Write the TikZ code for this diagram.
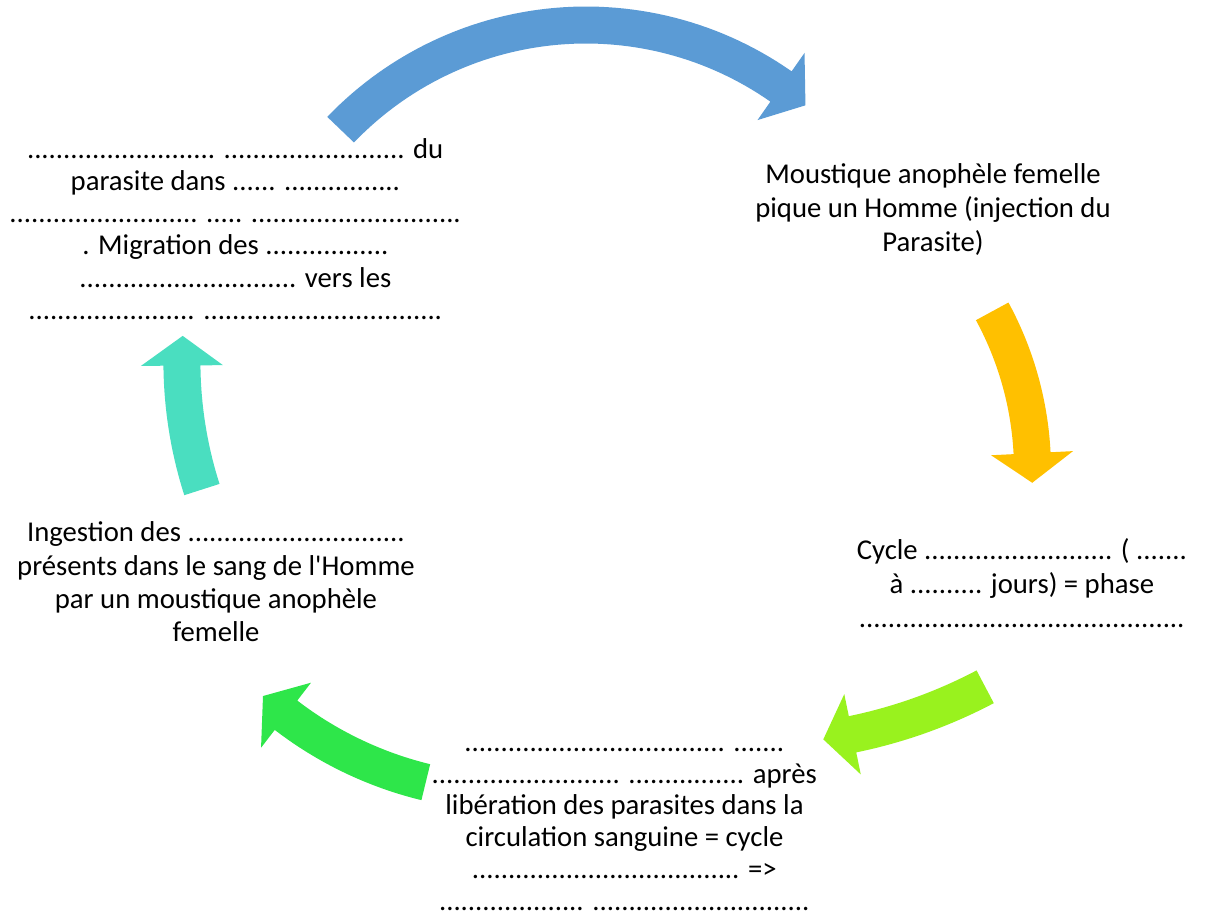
\documentclass[tikz,border=0pt]{standalone}
\usepackage{fontspec}
\setmainfont{Carlito}
\definecolor{cblue}{HTML}{5B9BD5}
\definecolor{cyellow}{HTML}{FFC000}
\definecolor{clime}{HTML}{99F21E}
\definecolor{cgreen}{HTML}{2EE64A}
\definecolor{cteal}{HTML}{4ADEC0}
\ExplSyntaxOn
\NewDocumentCommand\dts{m}{\prg_replicate:nn{#1}{.}}
\ExplSyntaxOff
% circular block arrow: centre x, centre y (pixels, y down), radius, tail angle, head-base angle, tip angle, colour
\newcommand{\cycarrow}[7]{%
  \fill[#7] plot[domain=#4:#5,samples=60] ({#1+(#3+18.5)*cos(\x)},{-#2+(#3+18.5)*sin(\x)})
    -- ({#1+(#3+41)*cos(#5)},{-#2+(#3+41)*sin(#5)})
    -- ({#1+#3*cos(#6)},{-#2+#3*sin(#6)})
    -- ({#1+(#3-41)*cos(#5)},{-#2+(#3-41)*sin(#5)})
    -- plot[domain=#5:#4,samples=60] ({#1+(#3-18.5)*cos(\x)},{-#2+(#3-18.5)*sin(\x)})
    -- cycle;}
\tikzset{
  txt/.style={inner sep=0pt, align=center, anchor=center, text=black}
}
\begin{document}
\begin{tikzpicture}[x=0.5pt,y=0.5pt]
\useasboundingbox (0,0) rectangle (1206,-917);
% arrows
\cycarrow{586}{365}{340}{136.2}{55}{49.8}{cblue}
\cycarrow{700}{470}{332.5}{28.5}{2.9}{-2.2}{cyellow}
\cycarrow{752}{244.5}{500}{-62.2}{-78.4}{-81.8}{clime}
\cycarrow{514.4}{417.8}{375}{-103.67}{-127.52}{-132.1}{cgreen}
\cycarrow{601.9}{361.5}{420}{197.75}{180.55}{176.5}{cteal}
% texts
\node[txt, font=\fontsize{14.35}{17.17}\selectfont] (tr) at (933,-210.5)
  {Moustique anophèle femelle\strut\\pique un Homme (injection du\strut\\Parasite)\strut};
\node[txt, font=\fontsize{14.35}{16.83}\selectfont] (rt) at (1022,-586.9)
  {Cycle \dts{26} ( \dts{7}\strut\\à \dts{10} jours) = phase\strut\\\dts{45}\strut};
\node[txt, font=\fontsize{14.35}{15.9}\selectfont] (bt) at (624.5,-824.5)
  {\dts{36} \dts{7}\strut\\\dts{26} \dts{16} après\strut\\libération des parasites dans la\strut\\circulation sanguine = cycle\strut\\\dts{37} =>\strut\\\dts{20} \dts{30}\strut};
\node[txt, font=\fontsize{14.35}{16.65}\selectfont] (lf) at (216,-585)
  {Ingestion des \dts{30}\strut\\présents dans le sang de l\textquotesingle Homme\strut\\par un moustique anophèle\strut\\femelle\strut};
\node[txt, font=\fontsize{14.35}{16.1}\selectfont] (tl) at (235.5,-232.4)
  {\dts{26} \dts{25} du\strut\\parasite dans \dts{6} \dts{16}\strut\\\dts{26} \dts{5} \dts{29}\strut\\. Migration des \dts{17}\strut\\\dts{30} vers les\strut\\\dts{23} \dts{33}\strut};
\end{tikzpicture}
\end{document}
